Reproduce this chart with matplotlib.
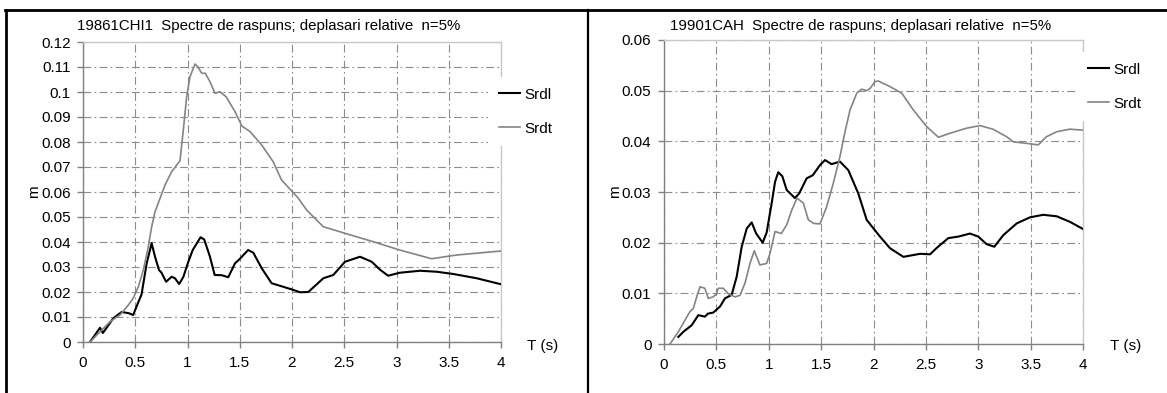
import numpy as np
import matplotlib.pyplot as plt
from matplotlib.lines import Line2D
from matplotlib.ticker import MultipleLocator, FuncFormatter

plt.rcParams['font.family'] = ['Liberation Sans', 'DejaVu Sans']

# left panel: 19861CHI1
t_l_srdl = [0.067, 0.163, 0.19, 0.29, 0.37, 0.44, 0.48, 0.53, 0.56, 0.61, 0.657, 0.69, 0.727, 0.75,
            0.795, 0.848, 0.88, 0.92, 0.96, 1.008, 1.05, 1.125, 1.16, 1.215, 1.26, 1.33, 1.39, 1.455,
            1.495, 1.58, 1.63, 1.71, 1.805, 1.915, 2.0, 2.077, 2.156, 2.3, 2.395, 2.507, 2.651, 2.763,
            2.84, 2.92, 3.03, 3.225, 3.385, 3.544, 3.767, 4.0]
v_l_srdl = [0.0, 0.0057, 0.0036, 0.0095, 0.012, 0.0115, 0.0108, 0.016, 0.019, 0.0316, 0.0395, 0.034,
            0.0288, 0.0278, 0.0241, 0.0261, 0.0255, 0.0232, 0.026, 0.0321, 0.0368, 0.0419, 0.041,
            0.0341, 0.0268, 0.0267, 0.0259, 0.0315, 0.033, 0.0368, 0.0357, 0.0295, 0.0235, 0.0221,
            0.021, 0.0199, 0.020, 0.0255, 0.0268, 0.0321, 0.0341, 0.0321, 0.029, 0.0265, 0.0277,
            0.0285, 0.0281, 0.0272, 0.0255, 0.0231]
t_l_srdt = [0.067, 0.163, 0.258, 0.354, 0.434, 0.48, 0.53, 0.577, 0.625, 0.657, 0.689, 0.72, 0.785,
            0.848, 0.928, 0.96, 0.992, 1.024, 1.072, 1.1, 1.136, 1.17, 1.215, 1.263, 1.311, 1.37,
            1.455, 1.52, 1.6, 1.71, 1.82, 1.9, 1.98, 2.06, 2.14, 2.3, 2.49, 2.778, 3.03, 3.337,
            3.576, 4.0]
v_l_srdt = [0.0, 0.0041, 0.0081, 0.0108, 0.0148, 0.0175, 0.0221, 0.0288, 0.0381, 0.0461, 0.0521,
            0.0555, 0.0628, 0.0681, 0.0725, 0.0848, 0.0981, 0.1061, 0.1112, 0.110, 0.1075, 0.1075,
            0.1041, 0.0995, 0.1001, 0.0981, 0.0921, 0.0864, 0.0841, 0.0788, 0.0721, 0.0648, 0.0612,
            0.0575, 0.0528, 0.0461, 0.0437, 0.0401, 0.0368, 0.0333, 0.0348, 0.0364]

# right panel: 19901CAH
t_r_srdl = [0.137, 0.184, 0.264, 0.328, 0.39, 0.42, 0.47, 0.535, 0.582, 0.646, 0.694, 0.742, 0.79,
            0.837, 0.88, 0.942, 0.98, 1.028, 1.06, 1.091, 1.13, 1.171, 1.25, 1.29, 1.362, 1.42,
            1.489, 1.537, 1.6, 1.68, 1.76, 1.855, 1.935, 2.0, 2.062, 2.158, 2.285, 2.444, 2.54,
            2.6, 2.714, 2.81, 2.921, 3.0, 3.08, 3.153, 3.24, 3.367, 3.494, 3.62, 3.75, 3.876, 4.0]
v_r_srdl = [0.0014, 0.0024, 0.0037, 0.0057, 0.0054, 0.006, 0.0062, 0.0074, 0.009, 0.0097, 0.0133,
            0.0192, 0.0228, 0.024, 0.0218, 0.020, 0.022, 0.0278, 0.032, 0.0339, 0.0331, 0.0304,
            0.0288, 0.0297, 0.0327, 0.0333, 0.0353, 0.0363, 0.0355, 0.036, 0.0343, 0.0297, 0.0245,
            0.0228, 0.0212, 0.0189, 0.0172, 0.0178, 0.0177, 0.0189, 0.0209, 0.0212, 0.0218, 0.0212,
            0.0197, 0.0192, 0.0215, 0.0238, 0.025, 0.0255, 0.0252, 0.0241, 0.0227]
t_r_srdt = [0.057, 0.137, 0.2, 0.248, 0.28, 0.312, 0.344, 0.39, 0.423, 0.47, 0.5, 0.518, 0.566, 0.614,
            0.678, 0.725, 0.773, 0.821, 0.862, 0.916, 0.98, 1.012, 1.06, 1.12, 1.171, 1.219, 1.27,
            1.33, 1.378, 1.43, 1.489, 1.553, 1.616, 1.68, 1.728, 1.776, 1.84, 1.887, 1.935, 1.97,
            2.014, 2.046, 2.158, 2.27, 2.38, 2.508, 2.62, 2.73, 2.89, 3.017, 3.14, 3.272, 3.335,
            3.46, 3.573, 3.65, 3.75, 3.875, 4.0]
v_r_srdt = [0.0, 0.0024, 0.0047, 0.0064, 0.007, 0.0093, 0.0113, 0.011, 0.009, 0.0093, 0.0099, 0.011,
            0.011, 0.0099, 0.0093, 0.0096, 0.012, 0.0159, 0.0184, 0.0156, 0.0159, 0.0179, 0.0222,
            0.0218, 0.0235, 0.0264, 0.0288, 0.0278, 0.0245, 0.0238, 0.0237, 0.0271, 0.0317, 0.037,
            0.0419, 0.0462, 0.0495, 0.0503, 0.050, 0.0505, 0.0518, 0.0519, 0.0508, 0.0495, 0.0462,
            0.0429, 0.0408, 0.0416, 0.0426, 0.0431, 0.0424, 0.0409, 0.0399, 0.0396, 0.0393, 0.0409,
            0.0419, 0.0424, 0.0422]

titles = ['19861CHI1  Spectre de raspuns; deplasari relative  n=5%',
          '19901CAH  Spectre de raspuns; deplasari relative  n=5%']
labels = ['Srdl', 'Srdt']

W, H = 1167, 393
fig = plt.figure(figsize=(W / 100, H / 100), dpi=100)


def fx(px):
    return px / W


def fy(py):
    return 1 - py / H


panels = [
    dict(rect=[fx(83), fy(342), fx(501) - fx(83), fy(42) - fy(342)], ymax=0.12,
         data=[(t_l_srdl, v_l_srdl), (t_l_srdt, v_l_srdt)], title_x=77, m_x=34,
         leg=(488, 77), ts_x=527),
    dict(rect=[fx(664), fy(344), fx(1083) - fx(664), fy(40) - fy(344)], ymax=0.06,
         data=[(t_r_srdl, v_r_srdl), (t_r_srdt, v_r_srdt)], title_x=670, m_x=615,
         leg=(1077, 52), ts_x=1110),
]

grid_ls = (0, (7, 3, 1.5, 3))
for p, title in zip(panels, titles):
    ax = fig.add_axes(p['rect'])
    (t1, v1), (t2, v2) = p['data']
    ax.plot(t1, v1, color='black', lw=1.5, label=labels[0], zorder=3)
    ax.plot(t2, v2, color='#848484', lw=1.2, label=labels[1], zorder=3)
    ax.set_xlim(0, 4)
    ax.set_ylim(0, p['ymax'])
    ax.xaxis.set_major_locator(MultipleLocator(0.5))
    ax.yaxis.set_major_locator(MultipleLocator(0.01))
    ax.xaxis.set_major_formatter(FuncFormatter(lambda v, _: '%g' % round(v, 2)))
    ax.yaxis.set_major_formatter(FuncFormatter(lambda v, _: '%g' % round(v, 3)))
    ax.grid(True, color='#8c8c8c', lw=0.8, linestyle=grid_ls)
    ax.set_axisbelow(True)
    for s in ['left', 'bottom']:
        ax.spines[s].set_color('#808080')
        ax.spines[s].set_linewidth(1.0)
    for s in ['top', 'right']:
        ax.spines[s].set_color('#c8c8c8')
        ax.spines[s].set_linewidth(1.0)
    ax.tick_params(direction='out', length=4, width=1, color='#808080', labelsize=11)
    ax.tick_params(axis='x', pad=6)
    ax.tick_params(axis='y', pad=5)

    fig.text(fx(p['title_x']), fy(26), title, fontsize=10.8, ha='left', va='center')
    fig.text(fx(p['m_x']), fy(192), 'm', fontsize=11, rotation=90, ha='center', va='center')
    fig.text(fx(p['ts_x']), fy(346), 'T (s)', fontsize=11, ha='left', va='center')

    lx, ly = p['leg']
    leg = ax.legend(loc='upper left', bbox_to_anchor=(fx(lx), fy(ly)),
                    bbox_transform=fig.transFigure, fontsize=11, frameon=True,
                    facecolor='white', edgecolor='none', framealpha=1, fancybox=False,
                    handlelength=1.4, handletextpad=0.3, labelspacing=1.3, borderpad=0.7,
                    borderaxespad=0)
    leg.set_zorder(5)

# outer frame lines
fig.add_artist(Line2D([fx(5), 1], [fy(10), fy(10)], color='black', lw=2))
fig.add_artist(Line2D([fx(6), fx(6)], [0, fy(10)], color='black', lw=2))
fig.add_artist(Line2D([fx(588), fx(588)], [0, fy(10)], color='black', lw=1.6))

fig.savefig('out.png', dpi=100, facecolor='white')
